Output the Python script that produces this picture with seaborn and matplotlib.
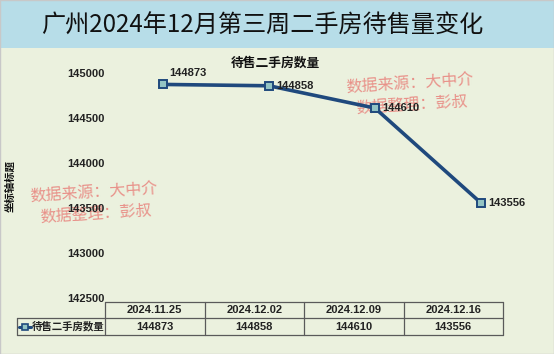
import matplotlib
matplotlib.use('Agg')
import matplotlib.pyplot as plt
from matplotlib.patches import Rectangle
import seaborn as sns
import pandas as pd

# data
dates = ['2024.11.25', '2024.12.02', '2024.12.09', '2024.12.16']
listings = [144873, 144858, 144610, 143556]
series_name = '待售二手房数量'
title = '广州2024年12月第三周二手房待售量变化'
y_ticks = [142500, 143000, 143500, 144000, 144500, 145000]
watermark = ['数据来源：大中介', '数据整理：彭叔']

sns.set_style('white')
plt.rcParams['font.family'] = ['Noto Sans CJK SC', 'DejaVu Sans']
num_font = ['Liberation Sans', 'Noto Sans CJK SC']

W, H = 554, 354
line_col = '#1f497d'
face_col = '#93c4c4'
bg = '#ebf1de'


def fx(x):
    return x / W


def fy(y):
    return 1 - y / H


fig = plt.figure(figsize=(W / 100, H / 100), dpi=100)
fig.patch.set_facecolor(bg)
fig.patches.append(Rectangle((0, fy(48)), 1, 48 / H, transform=fig.transFigure,
                             facecolor='#b7dde8', edgecolor='none', zorder=-5))
fig.patches.append(Rectangle((0, 0), 1, 1, transform=fig.transFigure,
                             facecolor='none', edgecolor='#c8c8c8', lw=1, zorder=-4))
fig.text(fx(262), fy(26), title, fontsize=17.4, ha='center', va='center', color='#111111')

# main line chart
ax = fig.add_axes([fx(110), fy(298), 424 / W, 225 / H])
ax.patch.set_visible(False)
df = pd.DataFrame({'date': dates, 'value': listings})
sns.lineplot(data=df, x='date', y='value', ax=ax, color=line_col, lw=2.6,
             marker='s', markersize=6, markerfacecolor=face_col,
             markeredgecolor=line_col, markeredgewidth=1.4, clip_on=False, zorder=3)
ax.set_xlim(-0.5, len(dates) - 0.5)
ax.set_ylim(y_ticks[0], y_ticks[-1])
ax.set_yticks(y_ticks)
ax.set_yticklabels([str(t) for t in y_ticks], fontsize=8, fontweight='bold',
                   family=num_font, color='#222222')
ax.tick_params(axis='y', length=0, pad=4)
ax.set_xticks([])
ax.set_xlabel('')
ax.set_ylabel('')
for s in ax.spines.values():
    s.set_visible(False)

for i, v in enumerate(listings):
    if i == 0:
        off = (4.5, 8.5)
    else:
        off = (5, 0)
    ax.annotate(str(v), (i, v), xytext=off, textcoords='offset points',
                ha='left', va='center', fontsize=8, fontweight='bold',
                family=num_font, color='#222222', zorder=4)

fig.text(fx(275), fy(63), series_name, fontsize=9.2, fontweight='bold',
         ha='center', va='center', color='#111111')
fig.text(fx(10), fy(186), '坐标轴标题', fontsize=7.5, fontweight='bold', rotation=90,
         ha='center', va='center', color='#111111')

# watermarks
for cx, cy in [(94, 193), (410, 84)]:
    fig.text(fx(cx), fy(cy), watermark[0], fontsize=11.5, rotation=3.5, color='#e8807a',
             alpha=0.85, ha='center', va='center', zorder=-1)
    fig.text(fx(cx + 2), fy(cy + 21), watermark[1], fontsize=11.5, rotation=3.5, color='#e8807a',
             alpha=0.85, ha='center', va='center', zorder=-1)

# data table
tab = fig.add_axes([0, 0, 1, 1])
tab.patch.set_visible(False)
tab.set_xlim(0, W)
tab.set_ylim(H, 0)
tab.axis('off')
x0, x1, cw = 17, 105, 99.5
y0, y1, y2 = 302, 318, 335
lc, lw = '#5a5a5a', 0.9
tab.plot([x1, x1 + cw * len(dates)], [y0, y0], color=lc, lw=lw)
tab.plot([x0, x1 + cw * len(dates)], [y1, y1], color=lc, lw=lw)
tab.plot([x0, x1 + cw * len(dates)], [y2, y2], color=lc, lw=lw)
tab.plot([x0, x0], [y1, y2], color=lc, lw=lw)
for i in range(len(dates) + 1):
    tab.plot([x1 + cw * i] * 2, [y0, y2], color=lc, lw=lw)
for i, (d, v) in enumerate(zip(dates, listings)):
    cx = x1 + cw * (i + 0.5)
    tab.text(cx, (y0 + y1) / 2, d, ha='center', va='center', fontsize=8,
             fontweight='bold', family=num_font, color='#222222')
    tab.text(cx, (y1 + y2) / 2, str(v), ha='center', va='center', fontsize=8,
             fontweight='bold', family=num_font, color='#222222')
tab.plot([19, 31], [(y1 + y2) / 2] * 2, color=line_col, lw=2.2)
tab.plot([25], [(y1 + y2) / 2], marker='s', markersize=5, markerfacecolor=face_col,
         markeredgecolor=line_col, markeredgewidth=1.2)
tab.text(32, (y1 + y2) / 2, series_name, ha='left', va='center', fontsize=7.5,
         fontweight='bold', color='#222222')

fig.savefig('out.png', dpi=100, facecolor=fig.get_facecolor())
